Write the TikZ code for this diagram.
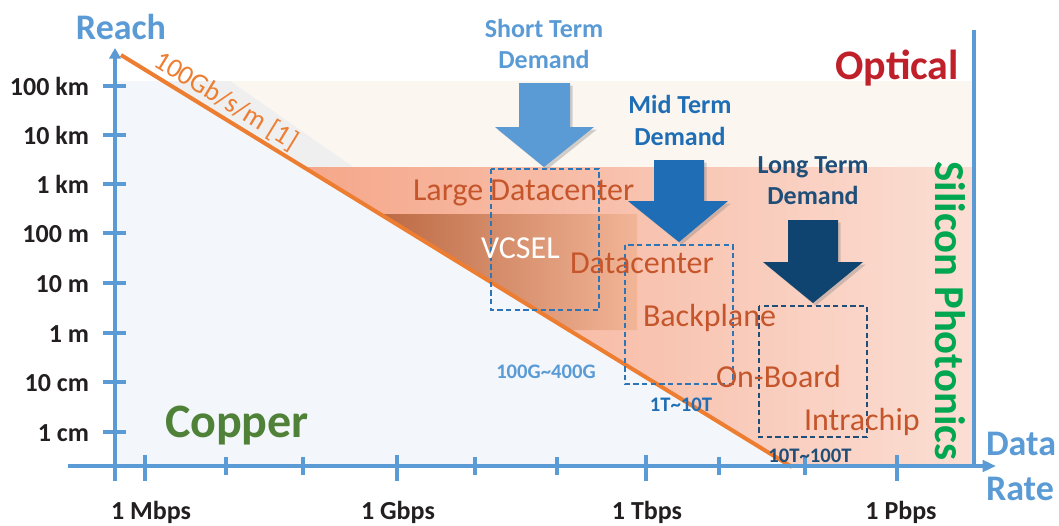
\documentclass[tikz,border=0pt]{standalone}
\usepackage{fontspec}
\setmainfont{Carlito}
\usetikzlibrary{arrows.meta,shadows}
\definecolor{axisblue}{HTML}{5B9BD5}
\definecolor{midblue}{HTML}{1F6EB5}
\definecolor{navy}{HTML}{1F4E79}
\definecolor{navyarrow}{HTML}{0F4470}
\definecolor{boxblue}{HTML}{2E75B6}
\definecolor{tickblack}{HTML}{231F20}
\definecolor{lineorange}{HTML}{ED7D31}
\definecolor{regiontext}{HTML}{C5552A}
\definecolor{opticalred}{HTML}{C0202A}
\definecolor{coppergreen}{HTML}{4F8238}
\definecolor{sigreen}{HTML}{00A650}
\definecolor{copperbg}{HTML}{F3F7FB}
\definecolor{opticalbg}{HTML}{FCF6F0}
\definecolor{grayband}{HTML}{EFEFEF}
\definecolor{salmonL}{HTML}{F5A78A}
\definecolor{salmonR}{HTML}{FBDED4}
\definecolor{vcselL}{HTML}{BC6A44}
\definecolor{vcselR}{HTML}{F2B597}
\begin{document}
\begin{tikzpicture}[x=0.75pt,y=-0.75pt,
  axisline/.style={draw=axisblue,line width=3.2pt},
  tickmark/.style={draw=axisblue,line width=3pt},
  lbl/.style={inner sep=0pt,outer sep=0pt},
  ticklbl/.style={lbl,text=tickblack,font=\fontsize{19.5}{23}\selectfont\bfseries},
  axistitle/.style={lbl,text=axisblue,font=\fontsize{27}{32}\selectfont\bfseries},
  demand/.style={lbl,font=\fontsize{19.5}{23}\selectfont\bfseries},
  region/.style={lbl,text=regiontext,font=\fontsize{24}{28}\selectfont},
  rangelbl/.style={lbl,font=\fontsize{15.5}{18}\selectfont\bfseries},
  dashbox/.style={line width=1.5pt,dash pattern=on 4pt off 2.5pt},
  blockarrow/.style={drop shadow={opacity=0.35,shadow xshift=2pt,shadow yshift=-2pt}}
]
\useasboundingbox (0,0) rectangle (1059,525);

% background regions
\fill[copperbg] (115,81) -- (163.4,81) -- (792,466) -- (115,466) -- cycle;
\fill[opticalbg] (163.4,81) -- (974,81) -- (974,167) -- (303.9,167) -- cycle;
\fill[grayband] (163.4,81) -- (230,81) -- (353,167) -- (303.9,167) -- cycle;
\shade[left color=salmonL,right color=salmonR] (303.9,167) -- (974,167) -- (974,466) -- (792,466) -- cycle;
\shade[left color=vcselL,right color=vcselR] (380.6,214) -- (637,214) -- (637,330) -- (570,330) -- cycle;

% orange bound line
\coordinate (lstart) at (121,55);
\coordinate (lend) at (792,467);
\draw[lineorange,line width=3pt] (lstart) -- (lend);
\node[lbl,text=lineorange,rotate=-31.5,font=\fontsize{20.5}{24}\selectfont] (bw) at (226,101) {100Gb/s/m [1]};

% dashed boxes
\draw[dashbox,boxblue] (491,169) rectangle (599,310);
\draw[dashbox,boxblue] (625,245) rectangle (733,384);
\draw[dashbox,navy] (759,306) rectangle (867,437);

% axes
\coordinate (ybot) at (115,481);
\coordinate (ytop) at (115,48);
\coordinate (xleft) at (68,466);
\coordinate (xright) at (996,466);
\coordinate (rtop) at (974,30);
\coordinate (rbot) at (974,466);
\draw[axisline,-{Triangle[length=8pt,width=8.5pt]}] (ybot) -- (ytop);
\draw[axisline,-{Triangle[length=10pt,width=8.5pt]}] (xleft) -- (xright);
\draw[axisline] (rtop) -- (rbot);

\foreach \y in {86,135,184,233,283,333,382,432} \draw[tickmark] (103,\y) -- (126,\y);
\foreach \x in {145,397,646,897} \draw[tickmark] (\x,455) -- (\x,481);
\foreach \x in {226,303,475,557,719,805} \draw[tickmark] (\x,457) -- (\x,475);

% tick labels
\node[ticklbl,anchor=base east] (t1) at (89,95) {100 km};
\node[ticklbl,anchor=base east] (t2) at (89,144) {10 km};
\node[ticklbl,anchor=base east] (t3) at (89,193) {1 km};
\node[ticklbl,anchor=base east] (t4) at (89,242) {100 m};
\node[ticklbl,anchor=base east] (t5) at (89,292) {10 m};
\node[ticklbl,anchor=base east] (t6) at (89,342) {1 m};
\node[ticklbl,anchor=base east] (t7) at (89,391) {10 cm};
\node[ticklbl,anchor=base east] (t8) at (89,441) {1 cm};
\node[ticklbl,anchor=base] (x1) at (151,519) {1 Mbps};
\node[ticklbl,anchor=base] (x2) at (398,519) {1 Gbps};
\node[ticklbl,anchor=base] (x3) at (647,519) {1 Tbps};
\node[ticklbl,anchor=base] (x4) at (901,519) {1 Pbps};

% axis titles
\node[axistitle,anchor=base] (reach) at (121,39) {Reach};
\node[axistitle,anchor=base west] (data) at (986,455) {Data};
\node[axistitle,anchor=base west] (rate) at (986,500) {Rate};

% demand arrows
\fill[axisblue,blockarrow] (519,83) -- (570,83) -- (570,127) -- (594,127) -- (544,167) -- (495,127) -- (519,127) -- cycle;
\fill[midblue,blockarrow] (654,160) -- (704,160) -- (704,201) -- (728,201) -- (679,242) -- (628,201) -- (654,201) -- cycle;
\fill[navyarrow,blockarrow] (788,220) -- (838,220) -- (838,262) -- (863,262) -- (813,303) -- (763,262) -- (788,262) -- cycle;

% demand labels
\node[demand,text=axisblue,anchor=base] (s1) at (544,37) {Short Term};
\node[demand,text=axisblue,anchor=base] (s2) at (544,68) {Demand};
\node[demand,text=midblue,anchor=base] (m1) at (680,113) {Mid Term};
\node[demand,text=midblue,anchor=base] (m2) at (680,145) {Demand};
\node[demand,text=navy,anchor=base] (l1) at (813,173) {Long Term};
\node[demand,text=navy,anchor=base] (l2) at (813,204) {Demand};

% region labels
\node[region,anchor=base west] (r1) at (413,200) {Large Datacenter};
\node[region,anchor=base west,text=white] (r2) at (481,258) {VCSEL};
\node[region,anchor=base west] (r3) at (570,273) {Datacenter};
\node[region,anchor=base west] (r4) at (643,326) {Backplane};
\node[region,anchor=base west] (r5) at (716,387) {On-Board};
\node[region,anchor=base west] (r6) at (804,430) {Intrachip};

% range labels
\node[rangelbl,text=axisblue,anchor=base] (g1) at (546,378) {100G\textasciitilde 400G};
\node[rangelbl,text=midblue,anchor=base] (g2) at (681,411) {1T\textasciitilde 10T};
\node[rangelbl,text=navy,anchor=base] (g3) at (810,462) {10T\textasciitilde 100T};

% big labels
\node[lbl,anchor=base west,text=coppergreen,font=\fontsize{36}{40}\selectfont\bfseries] (copper) at (165,437) {Copper};
\node[lbl,anchor=base east,text=opticalred,font=\fontsize{31.5}{36}\selectfont\bfseries] (optical) at (959,79) {Optical};
\node[lbl,anchor=base,rotate=-90,text=sigreen,font=\fontsize{32}{36}\selectfont\bfseries] (si) at (935,311) {Silicon Photonics};
\end{tikzpicture}
\end{document}
